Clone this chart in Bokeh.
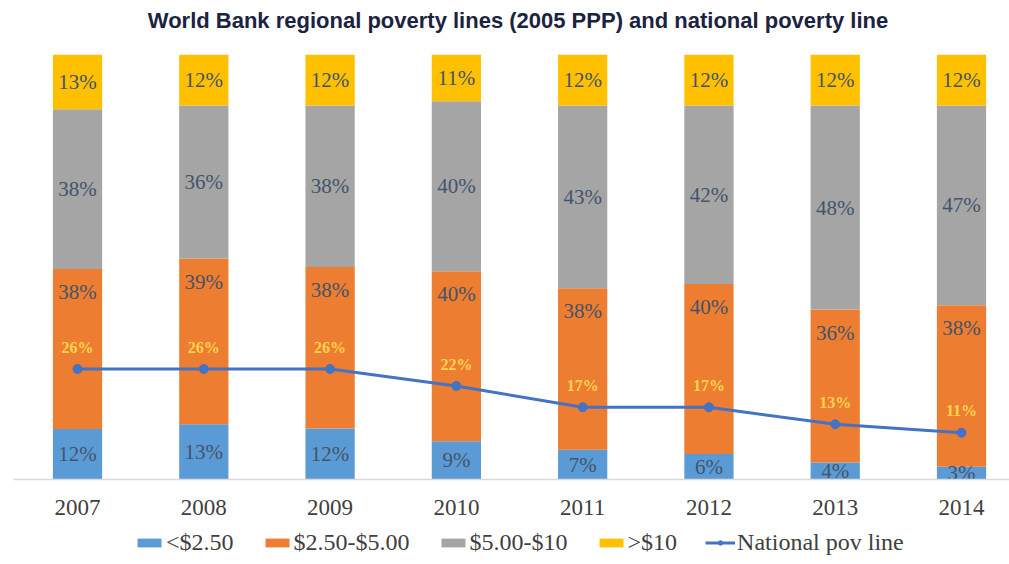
import numpy as np
from bokeh.plotting import figure
from bokeh.layouts import column
from bokeh.models import Range1d, FixedTicker, Legend, LegendItem, Label
from bokeh.core.properties import value
from bokeh.embed import file_html
from bokeh.resources import INLINE

# Share of population by World Bank regional poverty line (2005 PPP), %
years = ["2007", "2008", "2009", "2010", "2011", "2012", "2013", "2014"]
below_250 = [12, 13, 12, 9, 7, 6, 4, 3]
from_250_to_500 = [38, 39, 38, 40, 38, 40, 36, 38]
from_500_to_10 = [38, 36, 38, 40, 43, 42, 48, 47]
above_10 = [13, 12, 12, 11, 12, 12, 12, 12]
# National poverty line headcount, %
national_pov = [26, 26, 26, 22, 17, 17, 13, 11]

series_names = ["<$2.50", "$2.50-$5.00", "$5.00-$10", ">$10"]
series_colors = ["#5B9BD5", "#ED7D31", "#A5A5A5", "#FFC000"]
line_name = "National pov line"
line_color = "#4472C4"
title_text = "World Bank regional poverty lines (2005 PPP) and national poverty line"

SERIF = "Liberation Serif"
W = 1009

raw = np.array([below_250, from_250_to_500, from_500_to_10, above_10], dtype=float)
totals = raw.sum(axis=0)
shares = raw / totals * 100.0          # 100% stacked
tops = np.cumsum(shares, axis=0)
bottoms = tops - shares
xs = np.arange(len(years))

# header strip with the chart title
hd = figure(width=W, height=54, output_backend="svg", toolbar_location=None,
            x_axis_location=None, y_axis_location=None,
            x_range=Range1d(0, 1), y_range=Range1d(0, 1),
            min_border=0, outline_line_color=None,
            background_fill_color="white", border_fill_color="white")
hd.grid.visible = False
hd.add_layout(Label(x=W / 2, y=34, x_units="screen", y_units="screen",
                    text=title_text, text_align="center",
                    text_baseline="middle", text_font="Liberation Sans",
                    text_font_size="22px", text_font_style="bold",
                    text_color="#1B2340"))

p = figure(width=W, height=470, output_backend="svg", toolbar_location=None,
           x_range=Range1d(-0.507, 7.38), y_range=Range1d(0, 100),
           min_border_left=13, min_border_right=0, min_border_top=0,
           min_border_bottom=45, outline_line_color=None,
           background_fill_color="white", border_fill_color="white")
p.grid.visible = False
p.yaxis.visible = False

for i in range(len(series_names)):
    p.vbar(x=xs, bottom=bottoms[i], top=tops[i], width=0.39,
           fill_color=series_colors[i], line_color=None)

label_style = dict(text_align="center", text_baseline="middle",
                   text_font=value(SERIF), text_font_size="21px",
                   text_color="#44546A")

# segment value labels: centred, except the $2.50-$5.00 band which sits
# near the top of its segment to leave room for the poverty-line labels
for i in range(len(series_names)):
    vals = [f"{int(v)}%" for v in raw[i]]
    if i == 1:
        p.text(x=xs, y=tops[i], text=vals, y_offset=23, **label_style)
    else:
        p.text(x=xs, y=(bottoms[i] + tops[i]) / 2.0, text=vals, **label_style)

# national poverty line
p.line(x=xs, y=national_pov, line_color=line_color, line_width=3)
p.scatter(x=xs, y=national_pov, size=9, fill_color=line_color,
          line_color=line_color)
p.text(x=xs, y=national_pov, text=[f"{v}%" for v in national_pov],
       text_align="center", text_baseline="middle", y_offset=-22,
       text_font=value(SERIF), text_font_size="16px", text_font_style="bold",
       text_color="#FFD54F")

# x axis
p.xaxis.ticker = FixedTicker(ticks=list(xs))
p.xaxis.major_label_overrides = {int(k): y for k, y in zip(xs, years)}
p.xaxis.major_tick_line_color = None
p.xaxis.minor_tick_line_color = None
p.xaxis.axis_line_color = "#D9D9D9"
p.xaxis.axis_line_width = 1.5
p.xaxis.major_label_text_font = SERIF
p.xaxis.major_label_text_font_size = "23px"
p.xaxis.major_label_text_color = "#404040"
p.xaxis.major_label_standoff = 14

# legend strip underneath the chart; its renderers carry the same data
# but stay hidden, only their legend swatches are shown
lg = figure(width=W, height=40, output_backend="svg", toolbar_location=None,
            x_axis_location=None, y_axis_location=None,
            x_range=Range1d(-0.507, 7.38), y_range=Range1d(0, 100),
            min_border=0, outline_line_color=None,
            background_fill_color="white", border_fill_color="white")
lg.grid.visible = False
items = []
for i, (name, color) in enumerate(zip(series_names, series_colors)):
    r = lg.vbar(x=xs, bottom=bottoms[i], top=tops[i], width=0.39,
                fill_color=color, line_color=None, visible=False)
    items.append(LegendItem(label=name, renderers=[r]))
lr = lg.line(x=xs, y=national_pov, line_color=line_color, line_width=3,
             visible=False)
ls = lg.scatter(x=xs, y=national_pov, size=7, fill_color=line_color,
                line_color=line_color, visible=False)
items.append(LegendItem(label=line_name, renderers=[lr, ls]))
legend = Legend(items=items, orientation="horizontal", location=(121, 8),
                glyph_width=30, glyph_height=11, label_standoff=2, spacing=28,
                label_text_font=SERIF, label_text_font_size="24px",
                label_text_color="#404040", border_line_color=None,
                background_fill_alpha=0, padding=0, margin=0,
                inactive_fill_alpha=0, click_policy="none")
lg.add_layout(legend)

layout = column(hd, p, lg, spacing=0)
open("out.html", "w").write(file_html(layout, INLINE))
